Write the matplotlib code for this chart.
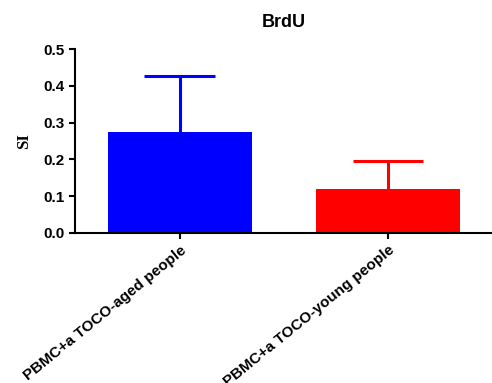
import numpy as np
import matplotlib.pyplot as plt

# Data
groups = ['PBMC+a TOCO-aged people', 'PBMC+a TOCO-young people']
means = [0.274, 0.120]
errors = [0.153, 0.076]
colors = ['#0000ff', '#ff0000']

plt.rcParams['font.family'] = ['Liberation Sans', 'DejaVu Sans']

fig = plt.figure(figsize=(4.92, 3.83), dpi=100)
ax = fig.add_axes([0.152, 0.392, 0.848, 0.48])

x = np.arange(len(groups))
ax.bar(x, means, width=0.69, color=colors, zorder=2)
# upper-only error bars with a cap
for xi, m, e, c in zip(x, means, errors, colors):
    ax.vlines(xi, m, m + e, color=c, linewidth=2.2, zorder=1)
    ax.hlines(m + e, xi - 0.17, xi + 0.17, color=c, linewidth=2.2, zorder=1)

ax.set_xlim(-0.505, 1.5)
ax.set_ylim(0, 0.5)
ax.set_yticks([0.0, 0.1, 0.2, 0.3, 0.4, 0.5])
ax.set_yticklabels(['0.0', '0.1', '0.2', '0.3', '0.4', '0.5'],
                   fontsize=11, fontweight='bold')
ax.set_xticks(x)
ax.set_xticklabels(groups, rotation=39, ha='right', rotation_mode='anchor',
                   fontsize=11, fontweight='bold')

# Prism-like axes
for side in ['top', 'right']:
    ax.spines[side].set_visible(False)
for side in ['left', 'bottom']:
    ax.spines[side].set_linewidth(1.5)
ax.tick_params(width=1.5, length=4, direction='out')

ax.set_ylabel('SI', family='Liberation Serif', fontsize=12, fontweight='bold',
              labelpad=8)
ax.set_title('BrdU', fontsize=13, fontweight='bold', pad=16)

fig.savefig('out.png', dpi=100)
